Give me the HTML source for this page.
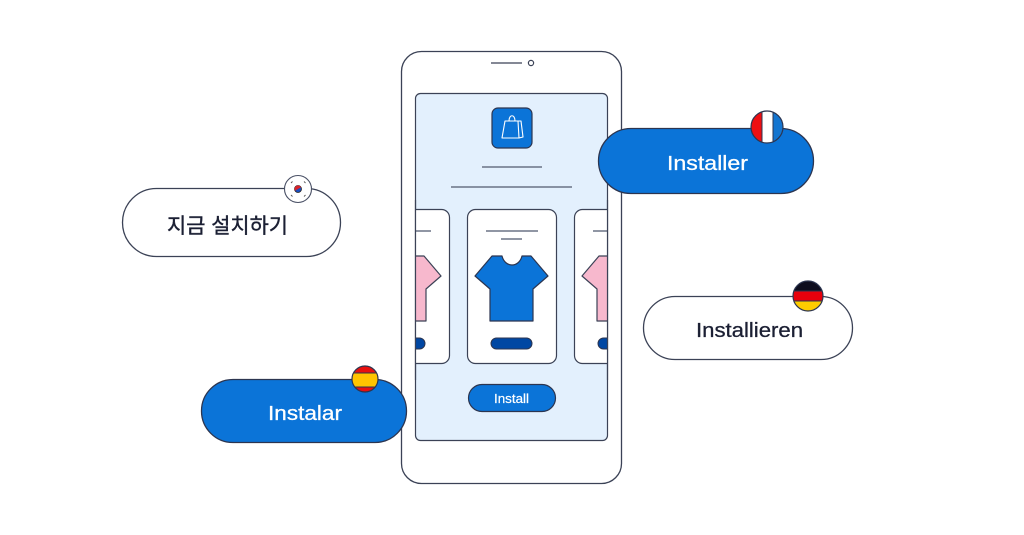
<!DOCTYPE html>
<html><head><meta charset="utf-8"><style>
html,body{margin:0;padding:0;background:#fff;}
svg{display:block;}
text{font-family:"Liberation Sans","Noto Sans CJK KR",sans-serif;}
</style></head><body>
<svg width="1024" height="535" viewBox="0 0 1024 535" xmlns="http://www.w3.org/2000/svg">
<defs>
<clipPath id="scr"><rect x="415" y="93" width="193" height="348" rx="5"/></clipPath>
<clipPath id="fr"><circle cx="767" cy="127" r="16"/></clipPath>
<clipPath id="de"><circle cx="808" cy="296" r="15"/></clipPath>
<clipPath id="es"><circle cx="365" cy="379" r="13"/></clipPath>
</defs>
<rect width="1024" height="535" fill="#fff"/>
<!-- phone -->
<rect x="401.5" y="51.5" width="220" height="432" rx="20" fill="#fff" stroke="#3b4256" stroke-width="1.3"/>
<line x1="491" y1="63" x2="522" y2="63" stroke="#3b4256" stroke-width="1.3"/>
<circle cx="531" cy="63" r="2.6" fill="#fff" stroke="#3b4256" stroke-width="1.2"/>
<rect x="415.5" y="93.5" width="192" height="347" rx="5" fill="#e3f0fd" stroke="#3b4256" stroke-width="1.2"/>
<!-- bag icon -->
<rect x="492" y="108" width="40" height="40" rx="6" fill="#0b74d8" stroke="#2c3550" stroke-width="1.2"/>
<g fill="none" stroke="#fff" stroke-width="1.1" stroke-linejoin="round">
<path d="M505 121 L518 121 L519 138 L502 138 Z"/>
<path d="M518 121 L521 121 L523 137 L519 138"/>
<path d="M509 121 C509 114 515 114 515 121"/>
</g>
<line x1="482" y1="167" x2="542" y2="167" stroke="#6b7385" stroke-width="1.5"/>
<line x1="451" y1="187" x2="572" y2="187" stroke="#6b7385" stroke-width="1.5"/>
<!-- cards -->
<g clip-path="url(#scr)">
  <g transform="translate(-107,0)">
    <rect x="467.5" y="209.5" width="89" height="154" rx="8" fill="#fff" stroke="#3b4256" stroke-width="1.2"/>
    <line x1="486" y1="231" x2="538" y2="231" stroke="#6b7385" stroke-width="1.5"/>
    <path d="M492 256 L502 256 C505 268 519 268 522 256 L531 256 L548 276 L533 289 L533 321 L490 321 L490 289 L475 276 Z" fill="#f7b8cd" stroke="#3b4256" stroke-width="1.2" stroke-linejoin="round"/>
    <rect x="491" y="338" width="41" height="11" rx="5.5" fill="#0047a3" stroke="#2c3550" stroke-width="1"/>
  </g>
  <g transform="translate(107,0)">
    <rect x="467.5" y="209.5" width="89" height="154" rx="8" fill="#fff" stroke="#3b4256" stroke-width="1.2"/>
    <line x1="486" y1="231" x2="538" y2="231" stroke="#6b7385" stroke-width="1.5"/>
    <path d="M492 256 L502 256 C505 268 519 268 522 256 L531 256 L548 276 L533 289 L533 321 L490 321 L490 289 L475 276 Z" fill="#f7b8cd" stroke="#3b4256" stroke-width="1.2" stroke-linejoin="round"/>
    <rect x="491" y="338" width="41" height="11" rx="5.5" fill="#0047a3" stroke="#2c3550" stroke-width="1"/>
  </g>
</g>
<line x1="415.5" y1="200" x2="415.5" y2="380" stroke="#3b4256" stroke-width="1.2"/>
<line x1="607.5" y1="200" x2="607.5" y2="380" stroke="#3b4256" stroke-width="1.2"/>
<rect x="467.5" y="209.5" width="89" height="154" rx="8" fill="#fff" stroke="#3b4256" stroke-width="1.2"/>
<line x1="486" y1="231" x2="538" y2="231" stroke="#6b7385" stroke-width="1.5"/>
<line x1="501" y1="239" x2="522" y2="239" stroke="#6b7385" stroke-width="1.5"/>
<path d="M492 256 L502 256 C505 268 519 268 522 256 L531 256 L548 276 L533 289 L533 321 L490 321 L490 289 L475 276 Z" fill="#0b74d8" stroke="#2c3550" stroke-width="1.2" stroke-linejoin="round"/>
<rect x="491" y="338" width="41" height="11" rx="5.5" fill="#0047a3" stroke="#2c3550" stroke-width="1"/>
<!-- install button -->
<rect x="468.5" y="384.5" width="87" height="27" rx="13.5" fill="#0b74d8" stroke="#2c3550" stroke-width="1.2"/>
<text x="494" y="403" font-size="12.5" fill="#fff" stroke="#fff" stroke-width="0.2" textLength="35" lengthAdjust="spacingAndGlyphs">Install</text>

<!-- Korean bubble -->
<rect x="122.5" y="188.5" width="218" height="68" rx="34" fill="#fff" stroke="#3b4256" stroke-width="1.3"/>
<text x="167" y="233" font-size="21" fill="#1b1f33" stroke="#1b1f33" stroke-width="0.4" textLength="121" lengthAdjust="spacingAndGlyphs">지금 설치하기</text>
<circle cx="298" cy="189" r="13.5" fill="#fff" stroke="#4a5166" stroke-width="1.1"/>
<g stroke="#555" stroke-width="0.9">
<line x1="291" y1="183" x2="292.5" y2="181.5"/><line x1="304" y1="181.5" x2="305.5" y2="183"/>
<line x1="291" y1="195" x2="292.5" y2="196.5"/><line x1="304" y1="196.5" x2="305.5" y2="195"/>
</g>
<circle cx="298" cy="189" r="3.5" fill="#1a4fc0" stroke="#222" stroke-width="0.8"/>
<path d="M294.5 189 A3.5 3.5 0 0 1 301.5 189 Z" fill="#d8232a" transform="rotate(-30 298 189)"/>

<!-- Installer bubble -->
<rect x="598.5" y="128.5" width="215" height="65" rx="32.5" fill="#0b74d8" stroke="#2c3550" stroke-width="1.3"/>
<text x="667" y="170" font-size="20.5" fill="#fff" stroke="#fff" stroke-width="0.3" textLength="81" lengthAdjust="spacingAndGlyphs">Installer</text>
<g clip-path="url(#fr)">
<rect x="750" y="110" width="12" height="34" fill="#ee0f12"/>
<rect x="762" y="110" width="11" height="34" fill="#fff"/>
<rect x="773" y="110" width="12" height="34" fill="#1475d0"/>
<line x1="762" y1="110" x2="762" y2="144" stroke="#2c3550" stroke-width="1"/>
<line x1="773" y1="110" x2="773" y2="144" stroke="#2c3550" stroke-width="1"/>
</g>
<circle cx="767" cy="127" r="16" fill="none" stroke="#2c3550" stroke-width="1.2"/>

<!-- Installieren bubble -->
<rect x="643.5" y="296.5" width="209" height="63" rx="31.5" fill="#fff" stroke="#3b4256" stroke-width="1.3"/>
<text x="696" y="337" font-size="20" fill="#1b1f33" stroke="#1b1f33" stroke-width="0.3" textLength="107" lengthAdjust="spacingAndGlyphs">Installieren</text>
<g clip-path="url(#de)">
<rect x="792" y="280" width="32" height="11" fill="#0d0d1e"/>
<rect x="792" y="291" width="32" height="10" fill="#e8000c"/>
<rect x="792" y="301" width="32" height="11" fill="#ffcc00"/>
<line x1="792" y1="291" x2="824" y2="291" stroke="#2c3550" stroke-width="1"/>
<line x1="792" y1="301" x2="824" y2="301" stroke="#2c3550" stroke-width="1"/>
</g>
<circle cx="808" cy="296" r="15" fill="none" stroke="#2c3550" stroke-width="1.2"/>

<!-- Instalar bubble -->
<rect x="201.5" y="379.5" width="205" height="63" rx="31.5" fill="#0b74d8" stroke="#2c3550" stroke-width="1.3"/>
<text x="268" y="420" font-size="20.5" fill="#fff" stroke="#fff" stroke-width="0.3" textLength="74" lengthAdjust="spacingAndGlyphs">Instalar</text>
<g clip-path="url(#es)">
<rect x="351" y="365" width="28" height="8" fill="#e8100f"/>
<rect x="351" y="373" width="28" height="14" fill="#ffc400"/>
<rect x="351" y="387" width="28" height="8" fill="#e8100f"/>
<line x1="351" y1="373" x2="379" y2="373" stroke="#2c3550" stroke-width="1"/>
<line x1="351" y1="387" x2="379" y2="387" stroke="#2c3550" stroke-width="1"/>
</g>
<circle cx="365" cy="379" r="13" fill="none" stroke="#2c3550" stroke-width="1.2"/>
</svg>
</body></html>
